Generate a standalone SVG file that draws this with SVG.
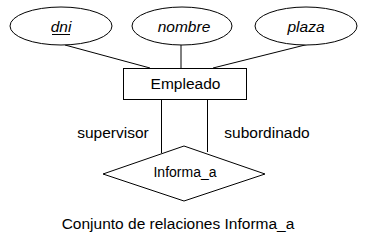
<svg xmlns="http://www.w3.org/2000/svg" width="370" height="232" viewBox="0 0 370 232">
<style>
.s{fill:#fff;stroke:#000;stroke-width:1}
.t{font-family:"Liberation Sans",Arial,sans-serif;font-size:15.5px;fill:#000;text-anchor:middle}
.i{font-style:italic}
.c line{stroke:#000;stroke-width:1}
</style>
<rect width="370" height="232" fill="#fff"/>
<g class="c" id="connectors">
<line x1="65" y1="45" x2="150" y2="68"/>
<line x1="181" y1="45" x2="181" y2="68"/>
<line x1="309" y1="44" x2="213" y2="68"/>
<line x1="161.5" y1="100" x2="161.5" y2="153"/>
<line x1="207.5" y1="100" x2="207.5" y2="152"/>
</g>
<g id="dni"><ellipse class="s" cx="61" cy="26" rx="51" ry="19"/><text class="t i" x="61" y="32">dni</text><line x1="52" y1="34.5" x2="70" y2="34.5" stroke="#000" stroke-width="1"/></g>
<g id="nombre"><ellipse class="s" cx="182" cy="26" rx="50" ry="19"/><text class="t i" x="184" y="32">nombre</text></g>
<g id="plaza"><ellipse class="s" cx="306" cy="26" rx="51" ry="19"/><text class="t i" x="306" y="32">plaza</text></g>
<g id="empleado"><rect class="s" x="123.5" y="68.5" width="123" height="31"/><text class="t" x="185.5" y="88.5">Empleado</text></g>
<g id="informa_a"><polygon class="s" points="184,146 265,174 184,201 103,174"/><text class="t" x="185" y="177" style="font-size:14px">Informa_a</text></g>
<text class="t" x="113" y="138">supervisor</text>
<text class="t" x="267" y="138">subordinado</text>
<text class="t" x="178" y="229">Conjunto de relaciones Informa_a</text>
</svg>
